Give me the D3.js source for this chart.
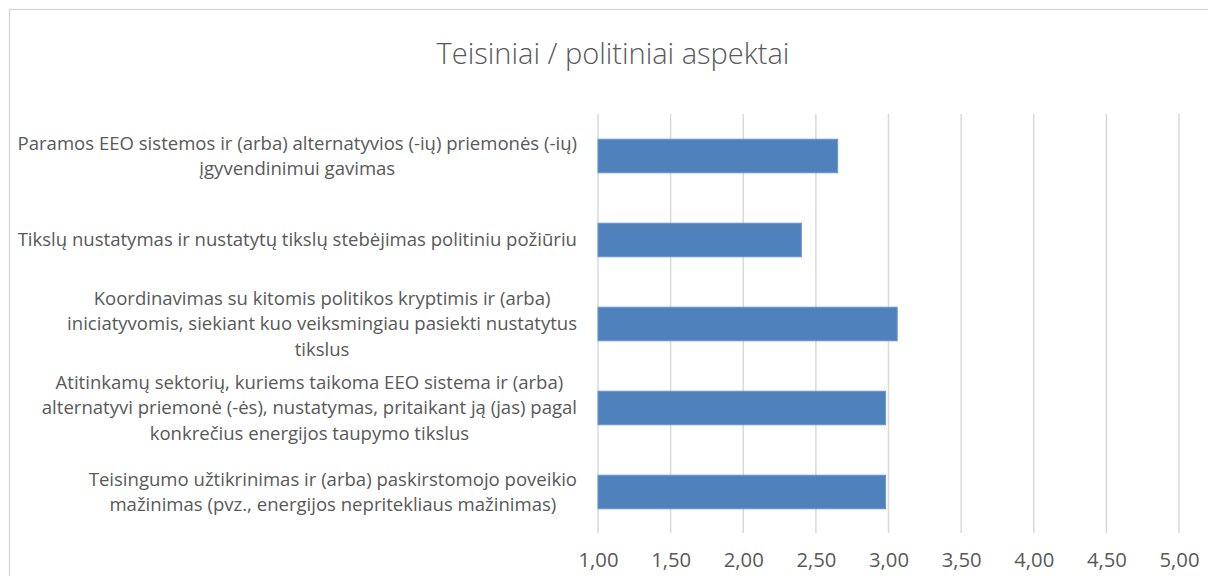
<!DOCTYPE html>
<html>
<head>
<meta charset="utf-8">
<script src="https://cdn.jsdelivr.net/npm/d3@7"></script>
<style>
  body { margin: 0; background: #fff; }
  text { font-family: "Open Sans", "Noto Sans", sans-serif; }
</style>
</head>
<body>
<script>
// chart data
var title = "Teisiniai / politiniai aspektai";
var categories = [
  ["Paramos EEO sistemos ir (arba) alternatyvios (-ių) priemonės (-ių)", "įgyvendinimui gavimas"],
  ["Tikslų nustatymas ir nustatytų tikslų stebėjimas politiniu požiūriu"],
  ["Koordinavimas su kitomis politikos kryptimis ir (arba)", "iniciatyvomis, siekiant kuo veiksmingiau pasiekti nustatytus", "tikslus"],
  ["Atitinkamų sektorių, kuriems taikoma EEO sistema ir (arba)", "alternatyvi priemonė (-ės), nustatymas, pritaikant ją (jas) pagal", "konkrečius energijos taupymo tikslus"],
  ["Teisingumo užtikrinimas ir (arba) paskirstomojo poveikio", "mažinimas (pvz., energijos nepritekliaus mažinimas)"]
];
var values = [2.65, 2.40, 3.06, 2.98, 2.98];
var tickValues = [1, 1.5, 2, 2.5, 3, 3.5, 4, 4.5, 5];

var w = 1208;
var h = 576;

var svg = d3.select("body")
    .append("svg")
    .attr("width", w)
    .attr("height", h);

// outer chart border (runs off the right/bottom edge like the screenshot)
svg.append("rect")
    .attr("x", 9.5)
    .attr("y", 9.5)
    .attr("width", 1210)
    .attr("height", 600)
    .attr("fill", "#fff")
    .attr("stroke", "#d9d9d9")
    .attr("stroke-width", 1.3);

// helper: font size that gives a string a target width
function fitSize(str, target, weight) {
  var t = svg.append("text").attr("font-size", 20).attr("font-weight", weight || 400).text(str);
  var wd = t.node().getComputedTextLength();
  t.remove();
  return 20 * target / wd;
}

var labelSize = fitSize(categories[1][0], 560);
var titleSize = fitSize(title, 353, 300);
var tickSize = fitSize("1,00", 40);

svg.append("text")
    .attr("x", 613)
    .attr("y", 64)
    .attr("text-anchor", "middle")
    .attr("font-size", titleSize)
    .attr("font-weight", 300)
    .attr("fill", "#595959")
    .text(title);

var x = d3.scaleLinear()
    .domain([1, 5])
    .range([598, 1179]);

var y = d3.scaleBand()
    .domain(d3.range(categories.length))
    .range([114, 534])
    .paddingInner(0.6)
    .paddingOuter(0.3);

// vertical gridlines
svg.append("g")
    .selectAll("line")
    .data(tickValues)
    .enter().append("line")
    .attr("x1", function(d) { return x(d); })
    .attr("x2", function(d) { return x(d); })
    .attr("y1", 114)
    .attr("y2", 533)
    .attr("stroke", "#d9d9d9")
    .attr("stroke-width", 1.5);

// bars
svg.append("g")
    .selectAll("rect")
    .data(values)
    .enter().append("rect")
    .attr("x", x(1))
    .attr("y", function(d, i) { return y(i); })
    .attr("width", function(d) { return x(d) - x(1); })
    .attr("height", y.bandwidth())
    .attr("fill", "#4f81bd")
    .attr("stroke", "#6d97cc")
    .attr("stroke-width", 1);

// x axis tick labels
var xAxis = svg.append("g")
    .attr("transform", "translate(0,533)")
    .call(d3.axisBottom(x)
        .tickValues(tickValues)
        .tickSize(0)
        .tickFormat(function(d) { return d3.format(".2f")(d).replace(".", ","); }));
xAxis.select(".domain").remove();
xAxis.selectAll("text")
    .attr("y", 34)
    .attr("dy", 0)
    .attr("font-family", "'Open Sans', 'Noto Sans', sans-serif")
    .attr("font-size", tickSize)
    .attr("fill", "#595959");

// category labels, each block right-aligned, lines centred within the block
var lineH = 25.5;
var labelRight = 577;
var lg = svg.append("g");
categories.forEach(function(lines, i) {
  var cy = y(i) + y.bandwidth() / 2;
  var g = lg.append("g");
  var texts = lines.map(function(s, k) {
    return g.append("text")
        .attr("y", cy + (k - (lines.length - 1) / 2) * lineH)
        .attr("dy", "0.35em")
        .attr("text-anchor", "middle")
        .attr("font-size", labelSize)
        .attr("fill", "#595959")
        .text(s);
  });
  var maxW = d3.max(texts, function(t) { return t.node().getComputedTextLength(); });
  texts.forEach(function(t) { t.attr("x", labelRight - maxW / 2); });
});
</script>
</body>
</html>
